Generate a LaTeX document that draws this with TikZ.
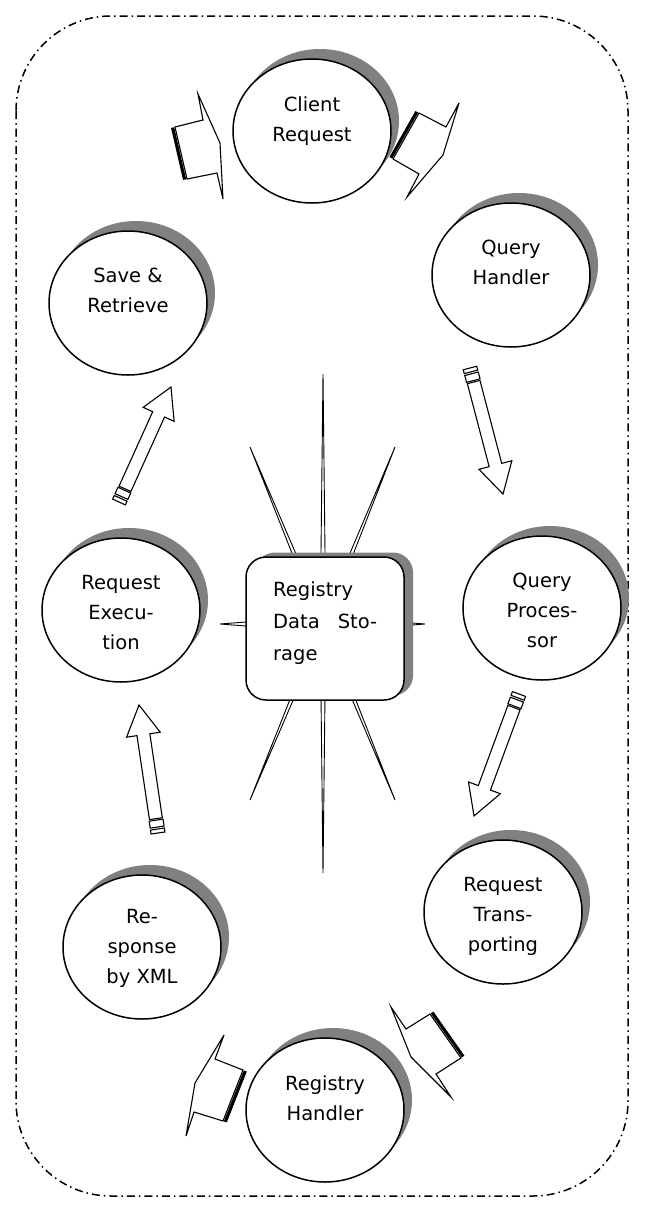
\documentclass[tikz,border=0pt]{standalone}
\usepackage{fontspec}
\setmainfont{DejaVu Sans}
\usetikzlibrary{calc,shapes.geometric,shadows}
\newcommand\spikeline[3]{\draw[spike] ($(#1)!#3!90:(#2)$) -- (#2) -- ($(#1)!#3!-90:(#2)$) -- cycle;}
\begin{document}
\begin{tikzpicture}[x=1pt,y=-1pt,
 proc/.style={ellipse, draw, line width=1.5pt, fill=white, minimum width=158pt, minimum height=144pt, inner sep=0pt,
   general shadow={fill=black!50, draw=none, shadow xshift=8pt, shadow yshift=10pt}},
 lbl/.style={align=center, inner sep=0pt, anchor=north, font=\fontsize{19.5}{30}\selectfont},
 store/.style={rectangle, rounded corners=20pt, draw, line width=1.5pt, fill=white, minimum width=158pt, minimum height=143pt,
   general shadow={fill=black!50, draw=none, shadow xshift=9pt, shadow yshift=4.5pt}},
 spike/.style={draw, fill=white, line width=0.9pt, line join=miter},
 arrline/.style={draw, fill=white, line width=1.1pt, line join=miter},
 thickedge/.style={line width=3.2pt},
 border/.style={draw, line width=1.5pt, dash pattern=on 8pt off 4pt on 1.5pt off 4pt, rounded corners=95pt},
 pics/barrow/.style={code={
   \draw[arrline] (0,-7) rectangle (4,7);
   \draw[arrline] (6,-7) rectangle (13,7);
   \draw[arrline] (14.5,-6.5) -- ({#1-30},-6.5) -- ({#1-30},-17) -- (#1,0) -- ({#1-30},17) -- ({#1-30},6.5) -- (14.5,6.5) -- cycle;
 }}
]
\fill[white] (0,0) rectangle (647,1210);
\useasboundingbox (0,0) rectangle (647,1210);
\draw[border] (16,16) rectangle (628,1196);

% star behind the storage box
\coordinate (sc) at (323,624);
\coordinate (s1) at (323,374);
\coordinate (s2) at (395,447);
\coordinate (s3) at (425,624);
\coordinate (s4) at (395,800);
\coordinate (s5) at (323,873);
\coordinate (s6) at (250,800);
\coordinate (s7) at (220,624);
\coordinate (s8) at (250,447);
\spikeline{sc}{s1}{2.8pt}
\spikeline{sc}{s2}{2.8pt}
\spikeline{sc}{s3}{8pt}
\spikeline{sc}{s4}{2.8pt}
\spikeline{sc}{s5}{2.8pt}
\spikeline{sc}{s6}{2.8pt}
\spikeline{sc}{s7}{8pt}
\spikeline{sc}{s8}{2.8pt}

\node[store] (rds) at (325,628.5) {};
\node[anchor=north west, text width=104pt, align=left, inner sep=0pt, font=\fontsize{19.5}{32}\selectfont] (rdst) at (273,581) {Registry\\Data\hfill Sto-\\rage};

% process circles
\node[proc] (cr) at (312,131) {};
\node[proc] (qh) at (511,275) {};
\node[proc] (sr) at (128,303) {};
\node[proc] (qp) at (542,608) {};
\node[proc] (re) at (121,610) {};
\node[proc] (rt) at (503,912) {};
\node[proc] (rx) at (142,947) {};
\node[proc] (rh) at (325,1110) {};

\node[lbl] (crt) at ($(cr.center)+(0,-35)$) {Client\\Request};
\node[lbl] (qht) at ($(qh.center)+(0,-35)$) {Query\\Handler};
\node[lbl] (srt) at ($(sr.center)+(0,-35)$) {Save \&\\Retrieve};
\node[lbl] (qpt) at ($(qp.center)+(0,-35)$) {Query\\Proces-\\sor};
\node[lbl] (ret) at ($(re.center)+(0,-35)$) {Request\\Execu-\\tion};
\node[lbl] (rtt) at ($(rt.center)+(0,-35)$) {Request\\Trans-\\porting};
\node[lbl] (rxt) at ($(rx.center)+(0,-38)$) {Re-\\sponse\\by XML};
\node[lbl] (rht) at ($(rh.center)+(0,-35)$) {Registry\\Handler};

% straight block arrows
\coordinate (a1s) at (470,368); \coordinate (a1e) at (503,494);
\coordinate (a2s) at (519,694); \coordinate (a2e) at (474,816);
\coordinate (a3s) at (158,833); \coordinate (a3e) at (139,705);
\coordinate (a4s) at (119,502); \coordinate (a4e) at (171,387);
\pic[rotate=-75.32] at (a1s) {barrow=130.3};
\pic[rotate=-110.25] at (a2s) {barrow=130};
\pic[rotate=98.44] at (a3s) {barrow=129.4};
\pic[rotate=65.67] at (a4s) {barrow=126.2};

% bent arrows around client request
\draw[arrline] (175,127) -- (203,120) -- (198,94) -- (220,143) -- (223,199) -- (217,173) -- (187,179) -- cycle;
\draw[thickedge] (172.6,127.6) -- (184.6,179.6);
\draw[arrline] (419,113) -- (446,127) -- (459,103) -- (443,155) -- (407,197) -- (419,174) -- (393,159) -- cycle;
\draw[thickedge] (416.8,111.8) -- (390.8,157.8);
% bent arrows around registry handler
\draw[arrline] (243,1070) -- (215,1059) -- (224,1035) -- (195,1083) -- (186,1136) -- (194,1112) -- (223,1121) -- cycle;
\draw[thickedge] (245.3,1070.9) -- (225.3,1121.9);
\draw[arrline] (430,1014) -- (406,1029) -- (391,1007) -- (411,1057) -- (451,1097) -- (436,1074) -- (461,1058) -- cycle;
\draw[thickedge] (432.1,1012.5) -- (463.1,1056.5);
\end{tikzpicture}
\end{document}
